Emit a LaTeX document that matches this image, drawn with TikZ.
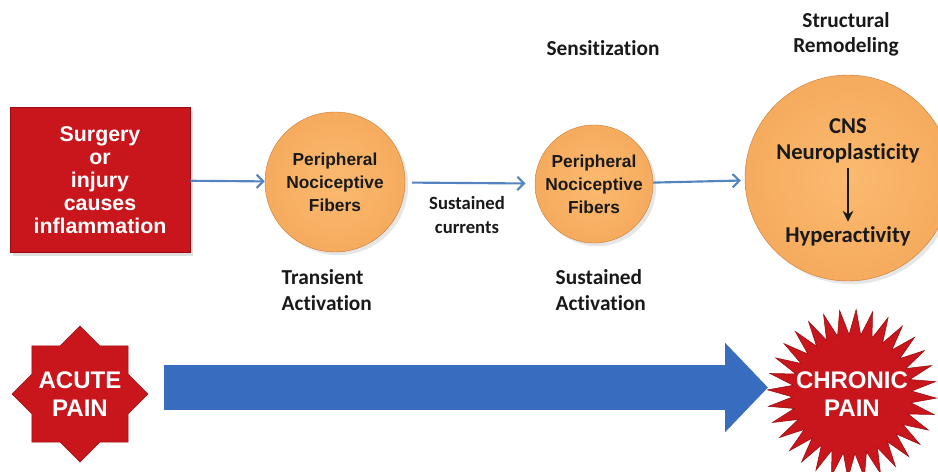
\documentclass[tikz,border=0pt]{standalone}
\usepackage{fontspec}
\setmainfont{Carlito}[Ligatures=NoCommon]
\newfontfamily\arialfont{Liberation Sans}
\usetikzlibrary{arrows.meta,calc,shadows}

\definecolor{painred}{RGB}{200,22,28}
\definecolor{painredline}{RGB}{150,12,16}
\definecolor{fiberlight}{RGB}{251,186,112}
\definecolor{fiberdark}{RGB}{236,144,60}
\definecolor{flowblue}{RGB}{84,132,192}
\definecolor{bigblue}{RGB}{56,108,190}
\definecolor{ink}{RGB}{25,25,25}

\pgfdeclareradialshading{fibershade}{\pgfpoint{0bp}{0bp}}{%
  color(0bp)=(fiberlight); color(28bp)=(fiberlight!60!fiberdark);
  color(50bp)=(fiberdark); color(60bp)=(fiberdark)}

\tikzset{
  cause/.style={rectangle, fill=painred, draw=painredline, minimum width=135pt,
    minimum height=108.75pt, text=white, align=center,
    font=\fontsize{16}{17.25}\selectfont\arialfont\bfseries,
    drop shadow={opacity=0.25}},
  fiber/.style={circle, shading=fibershade, draw=fiberdark!85!black, line width=0.3pt,
    inner sep=0pt, drop shadow={opacity=0.2}},
  fibertext/.style={text=ink, align=center, font=\fontsize{13}{17.25}\selectfont\arialfont\bfseries},
  cnstext/.style={text=ink, align=center, font=\fontsize{17}{20}\selectfont\bfseries},
  phase/.style={text=ink, align=left, font=\fontsize{16}{19}\selectfont\bfseries},
  flow/.style={draw=flowblue, line width=1.6pt, -{Straight Barb[length=5pt,width=10pt]}},
  painstar/.style={fill=painred, draw=painredline, line width=0.4pt},
  paintext/.style={text=white, align=center, font=\fontsize{18}{21}\selectfont\arialfont\bfseries},
  bigarrow/.style={draw=bigblue, line width=33.75pt,
    -{Triangle[length=32.25pt,width=65.25pt]}}
}

\begin{document}
\begin{tikzpicture}[x=0.75pt, y=-0.75pt]
\useasboundingbox (0,0) rectangle (938,471);

% upper row: cause and the three fibre stages
\node[cause] (injury) at (100,180) {Surgery\\or\\injury\\causes\\inflammation};

\node[fiber, minimum size=105pt] (periph) at (335,182) {};
\node[fibertext] (periphtext) at (periph) {Peripheral\\Nociceptive\\Fibers};

\node[fiber, minimum size=88.5pt] (sens) at (594,184) {};
\node[fibertext] (senstext) at (sens) {Peripheral\\Nociceptive\\Fibers};

\node[fiber, minimum size=154.5pt] (cnsball) at (848,178) {};
\node[cnstext] (cns) at (848,141) {CNS\\Neuroplasticity};
\node[cnstext] (hyper) at (848,236) {Hyperactivity};
\draw[ink, line width=1.6pt, -{Stealth[length=8pt,width=8pt]}] (cns) -- (hyper);

\draw[flow] (injury) -- (periph);
\draw[flow, shorten <=5pt, shorten >=7pt] (periph) -- (sens);
\draw[flow, shorten >=3pt] (sens) -- (cnsball);

\node[cnstext, font=\fontsize{14}{18}\selectfont\bfseries] (currents) at (467,215) {Sustained\\currents};

% stage labels
\node[phase, anchor=west] (transient) at (277,290) {Transient\\Activation};
\node[phase, anchor=west] (sustained) at (551,290) {Sustained\\Activation};
\node[phase] (sensitize) at (603,48) {Sensitization};
\node[phase, align=center] (remodel) at (846,34) {Structural\\Remodeling};

% lower row: acute to chronic
\coordinate (acute) at (80,394);
\coordinate (chronic) at (852,394);
\fill[painstar, shift={(acute)}] plot[samples at={0,...,15}, variable=\k]
  (\k*22.5+90:{60+8*cos(\k*180)}) -- cycle;
\fill[painstar, shift={(chronic)}] plot[samples at={0,...,63}, variable=\k]
  (\k*5.625+2.8:{72+12.5*cos(\k*180)}) -- cycle;
\node[paintext] (acutetext) at (acute) {ACUTE\\PAIN};
\node[paintext] (chronictext) at (chronic) {CHRONIC\\PAIN};

\draw[bigarrow] ($(acute)+(84,-6.5)$) -- ($(chronic)+(-84,-6.5)$);

\end{tikzpicture}
\end{document}
